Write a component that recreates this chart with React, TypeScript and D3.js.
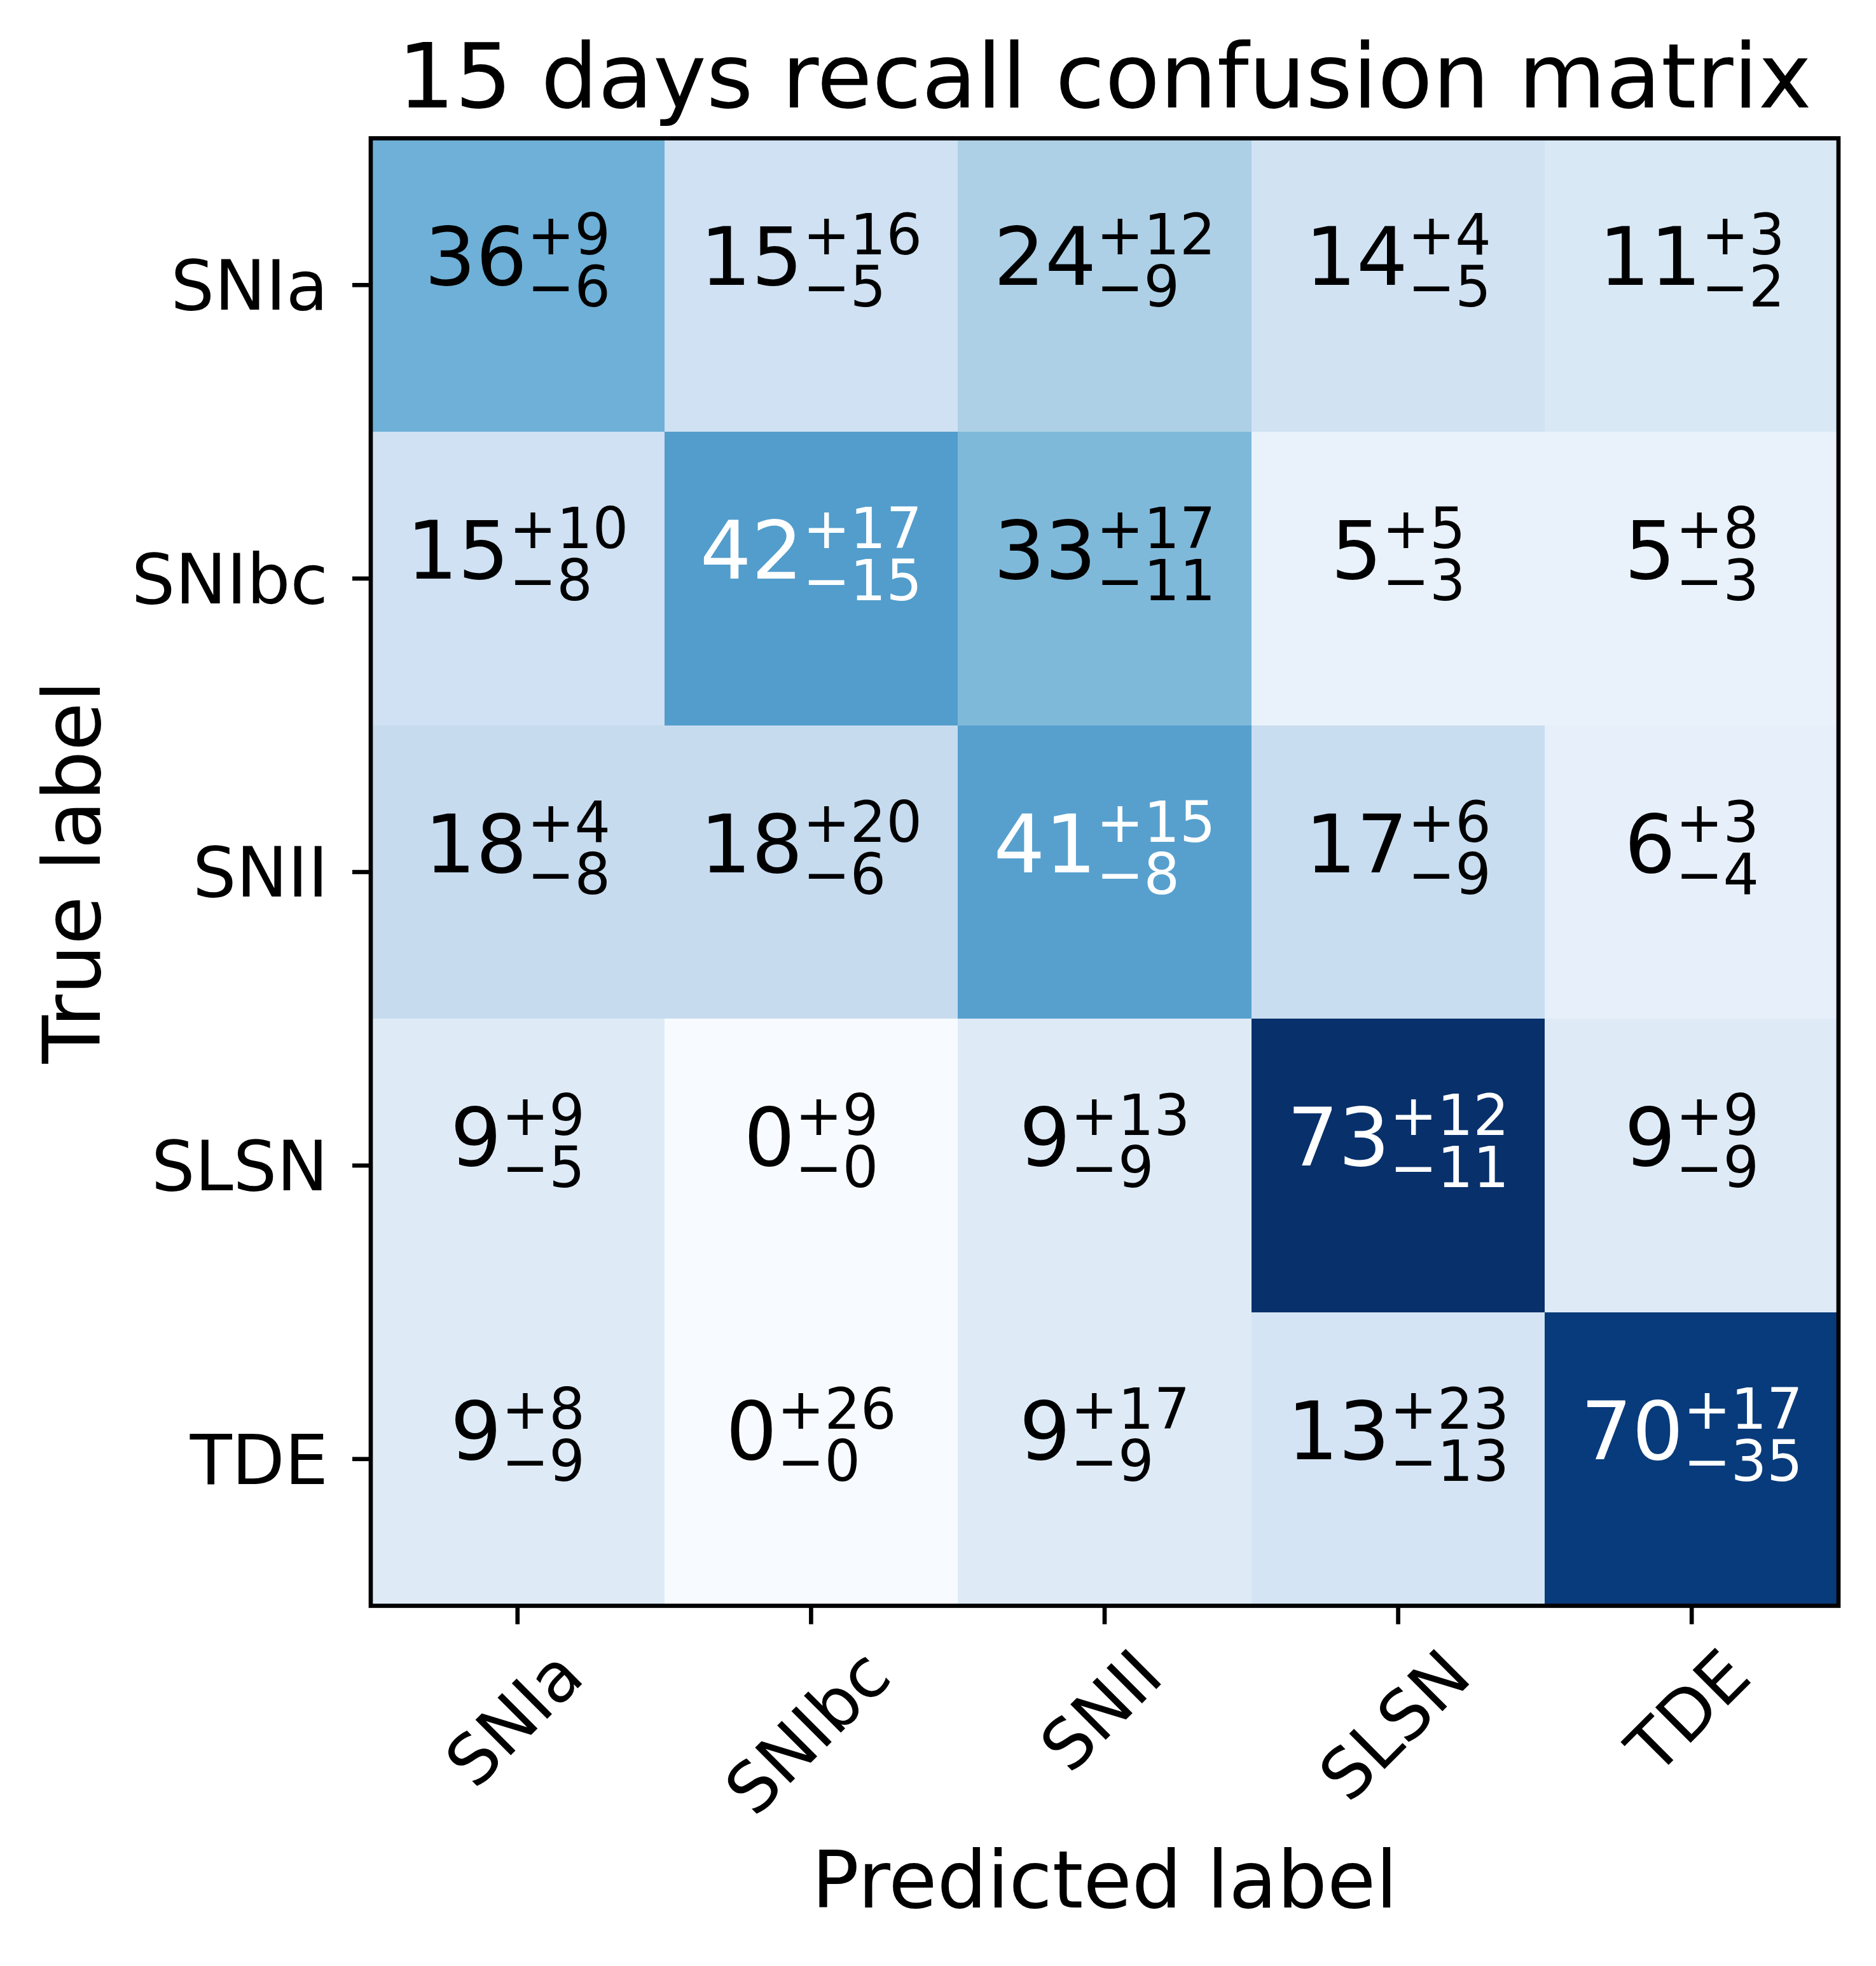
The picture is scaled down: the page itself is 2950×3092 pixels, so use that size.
import { useEffect, useRef } from 'react';
import * as d3 from 'd3';

// class names, rows = true label, columns = predicted label
const classes = ['SNIa', 'SNIbc', 'SNII', 'SLSN', 'TDE'];

// recall in percent
const recall = [
  [36, 15, 24, 14, 11],
  [15, 42, 33, 5, 5],
  [18, 18, 41, 17, 6],
  [9, 0, 9, 73, 9],
  [9, 0, 9, 13, 70],
];

// upper / lower uncertainty in percent
const upperErr = [
  [9, 16, 12, 4, 3],
  [10, 17, 17, 5, 8],
  [4, 20, 15, 6, 3],
  [9, 9, 13, 12, 9],
  [8, 26, 17, 23, 17],
];
const lowerErr = [
  [6, 5, 9, 5, 2],
  [8, 15, 11, 3, 3],
  [8, 6, 8, 9, 4],
  [5, 0, 9, 11, 9],
  [9, 0, 9, 13, 35],
];

const title = '15 days recall confusion matrix';
const xLabel = 'Predicted label';
const yLabel = 'True label';

// matplotlib "Blues"
const blues = ['#f7fbff', '#deebf7', '#c6dbef', '#9ecae1', '#6baed6', '#4292c6', '#2171b5', '#08519c', '#08306b'];

const W = 2950;
const H = 3092;
const FONT = 'DejaVu Sans';

const App = () => {
  const ref = useRef<SVGSVGElement | null>(null);

  useEffect(() => {
    document.body.style.margin = '0';
    const svg = d3.select(ref.current);
    svg.selectAll('*').remove();

    const left = 583;
    const top = 217.5;
    const size = 2308;
    const lw = 6.67; // 0.8pt
    const tickLen = 29;

    const x = d3.scaleBand<string>().domain(classes).range([left, left + size]);
    const y = d3.scaleBand<string>().domain(classes).range([top, top + size]);

    const flat = recall.flat();
    const vmin = d3.min(flat)!;
    const vmax = d3.max(flat)!;
    const color = d3
      .scaleLinear<string>()
      .domain(blues.map((_, i) => vmin + (i * (vmax - vmin)) / (blues.length - 1)))
      .range(blues)
      .interpolate(d3.interpolateRgb);
    const thresh = vmax / 2;

    // cells
    const cells = recall.flatMap((row, i) =>
      row.map((v, j) => ({ i, j, v, up: upperErr[i][j], lo: lowerErr[i][j] }))
    );

    svg
      .append('g')
      .selectAll('rect')
      .data(cells)
      .join('rect')
      .attr('x', d => x(classes[d.j])!)
      .attr('y', d => y(classes[d.i])!)
      .attr('width', x.bandwidth() + 0.5)
      .attr('height', y.bandwidth() + 0.5)
      .attr('fill', d => color(d.v))
      .attr('shape-rendering', 'crispEdges');

    // annotations  v^{+up}_{-lo}
    const F = 127;
    const S = F * 0.7;
    const digitW = 0.636;
    const signW = 0.838;
    const ann = svg
      .append('g')
      .attr('font-family', FONT)
      .selectAll('g')
      .data(cells)
      .join('g')
      .attr('fill', d => (d.v > thresh ? 'white' : 'black'));

    ann.each(function (d) {
      const g = d3.select(this);
      const cx = x(classes[d.j])! + x.bandwidth() / 2;
      const cy = y(classes[d.i])! + y.bandwidth() / 2;
      const mainW = String(d.v).length * digitW * F;
      const supW = (signW + String(d.up).length * digitW) * S;
      const subW = (signW + String(d.lo).length * digitW) * S;
      const x0 = cx - (mainW + Math.max(supW, subW)) / 2;
      g.append('text').attr('x', x0).attr('y', cy).attr('font-size', F).text(String(d.v));
      g.append('text')
        .attr('x', x0 + mainW)
        .attr('y', cy - 48)
        .attr('font-size', S)
        .text('+' + d.up);
      g.append('text')
        .attr('x', x0 + mainW)
        .attr('y', cy + 34)
        .attr('font-size', S)
        .text('\u2212' + d.lo);
    });

    // frame
    svg
      .append('rect')
      .attr('x', left)
      .attr('y', top)
      .attr('width', size)
      .attr('height', size)
      .attr('fill', 'none')
      .attr('stroke', 'black')
      .attr('stroke-width', lw);

    const TF = 108;

    // y axis
    const gy = svg
      .append('g')
      .attr('transform', `translate(${left},0)`)
      .call(d3.axisLeft(y).tickSize(tickLen).tickPadding(38));
    gy.select('.domain').remove();
    gy.selectAll('line').attr('stroke', 'black').attr('stroke-width', lw);
    gy.selectAll('text')
      .attr('font-family', FONT)
      .attr('font-size', TF)
      .attr('fill', 'black')
      .attr('dy', '0.36em');

    // x axis, labels rotated 45deg, rotated bbox centred under the tick
    const gx = svg
      .append('g')
      .attr('transform', `translate(0,${top + size})`)
      .call(d3.axisBottom(x).tickSize(tickLen));
    gx.select('.domain').remove();
    gx.selectAll('line').attr('stroke', 'black').attr('stroke-width', lw);
    const lblTop = tickLen + 29;
    gx.selectAll<SVGTextElement, string>('text')
      .attr('font-family', FONT)
      .attr('font-size', TF)
      .attr('fill', 'black')
      .attr('text-anchor', 'middle')
      .attr('y', 0)
      .attr('dy', '0.275em')
      .each(function () {
        const w = this.getComputedTextLength();
        const h = 0.97 * TF;
        const c = lblTop + (w + h) / (2 * Math.SQRT2);
        d3.select(this).attr('transform', `translate(0,${c}) rotate(-45)`);
      });

    // axis labels and title
    const LF = 124;
    svg
      .append('text')
      .attr('x', left + size / 2)
      .attr('y', 3000)
      .attr('text-anchor', 'middle')
      .attr('font-family', FONT)
      .attr('font-size', LF)
      .text(xLabel);

    svg
      .append('text')
      .attr('transform', `translate(157,${top + size / 2}) rotate(-90)`)
      .attr('text-anchor', 'middle')
      .attr('font-family', FONT)
      .attr('font-size', LF)
      .text(yLabel);

    svg
      .append('text')
      .attr('x', left + size / 2)
      .attr('y', 169)
      .attr('text-anchor', 'middle')
      .attr('font-family', FONT)
      .attr('font-size', 141.5)
      .text(title);
  }, []);

  return <svg ref={ref} width={W} height={H} style={{ display: 'block', background: 'white' }}></svg>;
};

export default App;
